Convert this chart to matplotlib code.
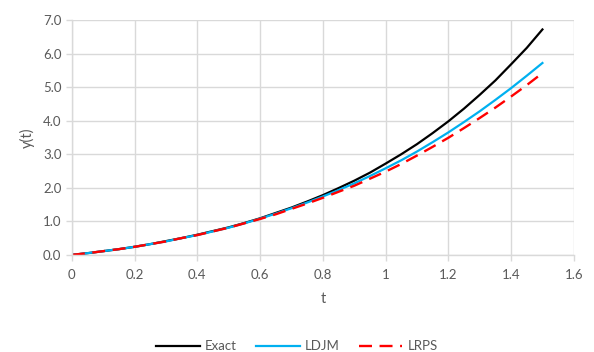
import matplotlib
matplotlib.use("Agg")
import matplotlib.pyplot as plt

# values (every 0.05 in t)
t = [0.0, 0.05, 0.1, 0.15, 0.2, 0.25, 0.3, 0.35, 0.4, 0.45, 0.5, 0.55, 0.6, 0.65, 0.7, 0.75,
     0.8, 0.85, 0.9, 0.95, 1.0, 1.05, 1.1, 1.15, 1.2, 1.25, 1.3, 1.35, 1.4, 1.45, 1.5]
exact = [0.0, 0.05, 0.11, 0.17, 0.24, 0.32, 0.41, 0.50, 0.60, 0.71, 0.82, 0.95, 1.09, 1.25, 1.41, 1.59,
         1.78, 1.99, 2.21, 2.45, 2.72, 3.00, 3.30, 3.63, 3.98, 4.36, 4.77, 5.20, 5.68, 6.17, 6.72]
ldjm = [0.0, 0.05, 0.11, 0.17, 0.24, 0.32, 0.40, 0.50, 0.59, 0.70, 0.81, 0.94, 1.08, 1.23, 1.39, 1.56,
        1.74, 1.93, 2.13, 2.35, 2.58, 2.82, 3.08, 3.36, 3.65, 3.96, 4.28, 4.62, 4.97, 5.34, 5.72]
lrps = [0.0, 0.05, 0.11, 0.17, 0.24, 0.32, 0.40, 0.50, 0.59, 0.70, 0.81, 0.94, 1.07, 1.21, 1.37, 1.53,
        1.70, 1.88, 2.06, 2.27, 2.48, 2.71, 2.96, 3.22, 3.49, 3.78, 4.08, 4.39, 4.72, 5.06, 5.42]

xticks = [0, 0.2, 0.4, 0.6, 0.8, 1.0, 1.2, 1.4, 1.6]
xlabels = ["0", "0.2", "0.4", "0.6", "0.8", "1", "1.2", "1.4", "1.6"]
yticks = [0, 1, 2, 3, 4, 5, 6, 7]

plt.rcParams['font.family'] = ['Lato', 'DejaVu Sans']
grey = '#595959'
gridc = '#D9D9D9'

fig = plt.figure(figsize=(5.94, 3.52), dpi=100)
ax = fig.add_axes([0.121, 0.276, 0.845, 0.667])

ax.plot(t, exact, color='black', lw=1.6, label='Exact')
ax.plot(t, ldjm, color='#00B0F0', lw=1.6, label='LDJM')
ax.plot(t, lrps, color='#FF0000', lw=1.7, dashes=(5.5, 3.2), label='LRPS')

ax.set_xlim(0, 1.6)
ax.set_ylim(0, 7)
ax.set_xticks(xticks)
ax.set_xticklabels(xlabels)
ax.set_yticks(yticks)
ax.set_yticklabels([f"{v:.1f}" for v in yticks])

ax.grid(True, color=gridc, lw=1.0)
ax.set_axisbelow(True)
for side in ['top', 'right']:
    ax.spines[side].set_visible(False)
for side in ['left', 'bottom']:
    ax.spines[side].set_color(gridc)
    ax.spines[side].set_linewidth(1.0)
ax.tick_params(colors=grey, labelsize=9.5, length=4, width=1.0, direction='out')
ax.tick_params(axis='both', color=gridc)
ax.tick_params(axis='x', pad=6)

ax.set_xlabel('t', color=grey, fontsize=10.5, labelpad=8)
ax.set_ylabel('y(t)', color=grey, fontsize=10.5, labelpad=6)

leg = fig.legend(loc='lower center', bbox_to_anchor=(0.5, -0.035), ncol=3, frameon=False,
                 fontsize=9.5, handlelength=3.3, columnspacing=1.45, handletextpad=0.4)
for txt in leg.get_texts():
    txt.set_color(grey)

fig.savefig('out.png', dpi=100)
